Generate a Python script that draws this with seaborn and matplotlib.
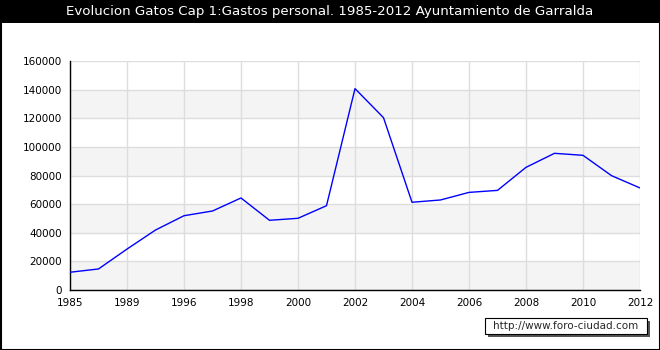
import matplotlib
matplotlib.use("Agg")
import matplotlib.pyplot as plt
import seaborn as sns
import pandas as pd
from matplotlib.patches import Rectangle

years = ["1985", "1987", "1989", "1995", "1996", "1997", "1998", "1999", "2000", "2001",
         "2002", "2003", "2004", "2005", "2006", "2007", "2008", "2009", "2010", "2011", "2012"]
gastos = [12400, 14700, 28600, 41900, 51900, 55200, 64300, 48700, 50100, 58900,
          140700, 120400, 61300, 62900, 68200, 69600, 85700, 95500, 94100, 79900, 71300]
y_ticks = [0, 20000, 40000, 60000, 80000, 100000, 120000, 140000, 160000]
title = "Evolucion Gatos Cap 1:Gastos personal. 1985-2012 Ayuntamiento de Garralda"
watermark = "http://www.foro-ciudad.com"

sns.set_style("white")
plt.rcParams['font.family'] = ['DejaVu Sans']

df = pd.DataFrame({"pos": list(range(len(years))), "gastos": gastos})

fig = plt.figure(figsize=(6.6, 3.5), dpi=100)
fig.patch.set_facecolor("white")
ax = fig.add_axes([70/660, 60/350, 570/660, 229/350])

# background bands
for i in range(len(y_ticks) - 1):
    if i % 2 == 0:
        ax.axhspan(y_ticks[i], y_ticks[i+1], color="#f4f4f4", zorder=0, lw=0)

sns.lineplot(data=df, x="pos", y="gastos", ax=ax, color="#0000ff", linewidth=1.0, zorder=3)

ax.set_xlim(0, len(years) - 1)
ax.set_ylim(0, 160000)
xt = list(range(0, len(years), 2))
ax.set_xticks(xt)
ax.set_xticklabels([years[i] for i in xt])
ax.set_yticks(y_ticks)
ax.set_yticklabels([str(v) for v in y_ticks])
ax.set_yticks(list(range(10000, 160000, 20000)), minor=True)
ax.grid(True, which="major", color="#dddddd", linewidth=1.0, zorder=1)
ax.set_axisbelow(True)
ax.set_xlabel("")
ax.set_ylabel("")
for s in ["top", "right"]:
    ax.spines[s].set_visible(False)
for s in ["left", "bottom"]:
    ax.spines[s].set_color("black")
    ax.spines[s].set_linewidth(1.0)
ax.tick_params(axis="both", which="both", direction="in", color="black", width=1,
               labelsize=7.5, labelcolor="black")
ax.tick_params(axis="y", which="major", length=5, pad=6)
ax.tick_params(axis="y", which="minor", length=3)
ax.tick_params(axis="x", which="major", length=5, pad=6)

# title bar
fig.patches.append(Rectangle((0, 1 - 23/350), 1, 23/350, transform=fig.transFigure,
                             facecolor="black", edgecolor="none", zorder=5))
fig.text(0.5, 1 - 12/350, title, color="white", ha="center", va="center", fontsize=9.6, zorder=6)

# outer border
fig.patches.append(Rectangle((0.5/660, 0.5/350), 659/660, 349/350, transform=fig.transFigure,
                             facecolor="none", edgecolor="black", linewidth=1.5, zorder=7))

# watermark box with shadow
fig.patches.append(Rectangle((488/660, (350-337)/350), 162/660, 16/350, transform=fig.transFigure,
                             facecolor="#555555", edgecolor="none", zorder=5))
fig.patches.append(Rectangle((485/660, (350-334)/350), 162/660, 16/350, transform=fig.transFigure,
                             facecolor="white", edgecolor="black", linewidth=0.8, zorder=6))
fig.text(566/660, (350-326)/350, watermark, ha="center", va="center", fontsize=7.5, zorder=7)

fig.savefig("out.png", dpi=100)
